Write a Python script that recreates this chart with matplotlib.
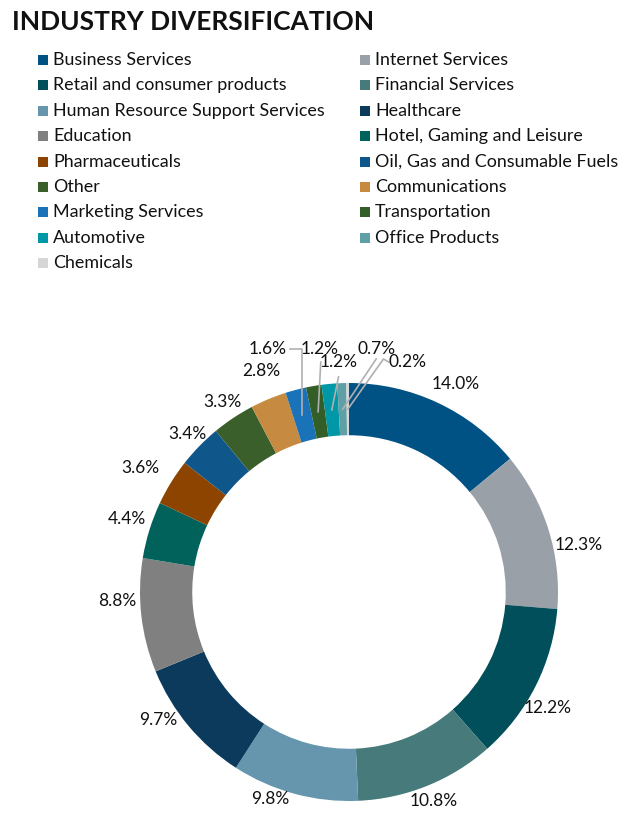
import matplotlib
matplotlib.use("Agg")
import matplotlib.pyplot as plt
import numpy as np
from matplotlib.patches import Rectangle

plt.rcParams['font.family'] = ['Lato', 'DejaVu Sans']

categories = ["Business Services", "Internet Services", "Retail and consumer products",
              "Financial Services", "Human Resource Support Services", "Healthcare",
              "Education", "Hotel, Gaming and Leisure", "Pharmaceuticals",
              "Oil, Gas and Consumable Fuels", "Other", "Communications",
              "Marketing Services", "Transportation", "Automotive", "Office Products",
              "Chemicals"]
values = [14.0, 12.3, 12.2, 10.8, 9.8, 9.7, 8.8, 4.4, 3.6, 3.4, 3.3, 2.8, 1.6, 1.2, 1.2, 0.7, 0.2]
colors = ["#005285", "#9aa0a7", "#004f5a", "#477b7b", "#6596ae", "#0b3a5c",
          "#808080", "#00625a", "#8c4400", "#0f568a", "#3a5f2a", "#c68a40",
          "#1a72b8", "#345e28", "#0097a7", "#5fa0a6", "#d6d6d6"]
title = "INDUSTRY DIVERSIFICATION"

W, H = 640, 836
fig = plt.figure(figsize=(W / 100, H / 100), dpi=100)

# Title
fig.text(12 / W, 1 - 22 / H, title, fontsize=19, fontweight='bold', color='#111111',
         ha='left', va='center')

# Legend (row-major, two columns)
row0, dy = 60, 25.4
for i, (cat, col) in enumerate(zip(categories, colors)):
    r, c = divmod(i, 2)
    y = row0 + r * dy
    mx = 38 if c == 0 else 360
    fig.patches.append(Rectangle((mx / W, 1 - (y + 5) / H), 10 / W, 10 / H,
                                 transform=fig.transFigure, facecolor=col,
                                 edgecolor='none'))
    fig.text((mx + 15) / W, 1 - y / H, cat, fontsize=12.9, color='#111111',
             ha='left', va='center')

# Donut
cx, cy, R = 349, 592, 209
ax = fig.add_axes([(cx - R) / W, 1 - (cy + R) / H, 2 * R / W, 2 * R / H])
wedges, _ = ax.pie(values, colors=colors, startangle=90, counterclock=False,
                   radius=1, wedgeprops=dict(width=0.25, edgecolor='none'))
ax.set_xlim(-1, 1)
ax.set_ylim(-1, 1)
ax.set_aspect('equal')
ax.axis('off')

# label placement tweaks (angle shift in degrees, radial distance)
ang_shift = [-2, -6, -3.6, 0, -5.7, -6, -4.3, -1, 1, 0, 0, -1]
lab_dist = [1.12, 1.12, 1.10, 1.08, 1.06, 1.10, 1.11, 1.12, 1.16, 1.08, 1.09, 1.14]

small_pos = {12: (-0.39, 1.163), 13: (-0.14, 1.163), 14: (-0.048, 1.10),
             15: (0.13, 1.163), 16: (0.278, 1.10)}
line_end = {12: [(None, 1.163), (-0.28, 1.163)], 13: [(-0.135, 1.10)],
            14: [(-0.05, 1.03)], 15: [(0.13, 1.115)], 16: [(0.165, 1.115), (0.19, 1.10)]}
for i, w in enumerate(wedges):
    mid = (w.theta1 + w.theta2) / 2
    ang = np.deg2rad(mid)
    lab = f"{values[i]:.1f}%"
    if i in small_pos:
        tx, ty = small_pos[i]
        sx, sy = 0.875 * np.cos(ang), 0.875 * np.sin(ang)
        pts = [(sx, sy)]
        for (px, py) in line_end[i]:
            pts.append((sx if px is None else px, py))
        xs, ys = zip(*pts)
        ax.plot(xs, ys, color='#b0b0b0', lw=1.2, clip_on=False, zorder=1)
        ax.text(tx, ty, lab, fontsize=12.5, ha='center', va='center', color='#111111')
    else:
        a2 = np.deg2rad(mid + ang_shift[i])
        rr = lab_dist[i]
        ax.text(rr * np.cos(a2), rr * np.sin(a2), lab, fontsize=12.5,
                ha='center', va='center', color='#111111')

fig.savefig("out.png", dpi=100)
